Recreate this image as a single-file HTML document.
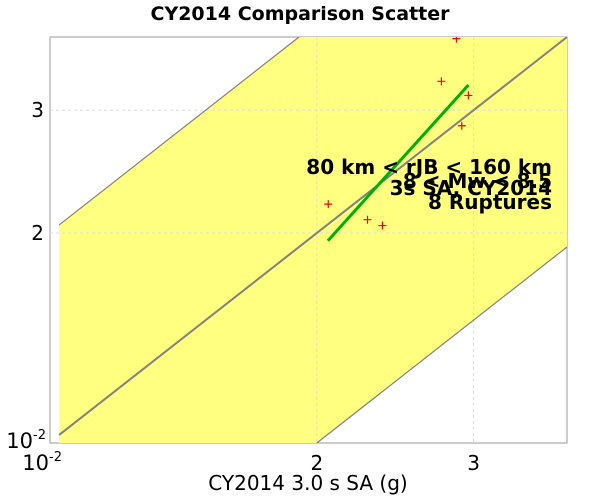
<!DOCTYPE html>
<html><head><meta charset="utf-8"><style>
html,body{margin:0;padding:0;background:#fff;width:600px;height:500px;overflow:hidden}
svg{display:block}
svg text{font-family:"DejaVu Sans","Liberation Sans",sans-serif}
</style></head><body>
<svg id="chart" width="600" height="500">
<text x="300" y="20" text-anchor="middle" font-size="19" font-weight="bold">CY2014 Comparison Scatter</text>
<rect x="50" y="37" width="517" height="406" fill="#fff" stroke="#999"/>
<g id="plot"></g>
<text x="308" y="490" text-anchor="middle" font-size="20">CY2014 3.0 s SA (g)</text>
</svg>
<script>
const xTickVals=[2,3];
const xTickLabels=["2","3"];
const yTickVals=[2,3];
const yTickLabels=["2","3"];
const ptX=[2.87,2.76,2.96,2.91,2.06,2.28,2.37];
const ptY=[3.80,3.30,3.15,2.85,2.20,2.09,2.05];
const fitX=[2.058,2.96];
const fitY=[1.95,3.26];
const bandRatio=[2,0.5];
const xMin=1.003,xMax=3.82,yMin=1.0,yMax=3.82,bandStart=1.027;
const L=50,R=567,T=37,B=443;
const sx=v=>L+(Math.log10(v)-Math.log10(xMin))/(Math.log10(xMax)-Math.log10(xMin))*(R-L);
const sy=v=>B-(Math.log10(v)-Math.log10(yMin))/(Math.log10(yMax)-Math.log10(yMin))*(B-T);
const NS="http://www.w3.org/2000/svg";
const svg=document.getElementById('chart');
const g=document.getElementById('plot');
function mk(t,a,p){const e=document.createElementNS(NS,t);for(const k in a)e.setAttribute(k,a[k]);(p||g).appendChild(e);return e;}
const hi=bandRatio[0],lo=bandRatio[1],x0=bandStart;
const upEnd=yMax/hi, loStart=yMin/lo;
const pts=[[x0,x0*hi],[upEnd,yMax],[xMax,yMax],[xMax,xMax*lo],[loStart,yMin],[x0,yMin]];
const band=mk('polygon',{points:pts.map(p=>sx(p[0])+','+sy(p[1])).join(' '),fill:'#ffff80'});


xTickVals.forEach((v,i)=>{const l=mk('line',{x1:sx(v),x2:sx(v),y1:T,y2:B,stroke:'#ddd','stroke-dasharray':'3,3'});


const t=mk('text',{x:sx(v),y:470,'text-anchor':'middle','font-size':'20'},svg);t.textContent=xTickLabels[i];

});
yTickVals.forEach((v,i)=>{const l=mk('line',{x1:L,x2:R,y1:sy(v),y2:sy(v),stroke:'#ddd','stroke-dasharray':'3,3'});


const t=mk('text',{x:44,y:sy(v)+7,'text-anchor':'end','font-size':'20'},svg);t.textContent=yTickLabels[i];

});
[[x0,x0*hi,upEnd,yMax,'band-upper-edge',1.2],[x0,x0,xMax,xMax,'one-to-one-line',2],[loStart,yMin,xMax,xMax*lo,'band-lower-edge',1.2]].forEach(a=>{
const l=mk('line',{x1:sx(a[0]),y1:sy(a[1]),x2:sx(a[2]),y2:sy(a[3]),stroke:'#808080','stroke-width':a[5]});

});
const fl=mk('line',{x1:sx(fitX[0]),y1:sy(fitY[0]),x2:sx(fitX[1]),y2:sy(fitY[1]),stroke:'#00b000','stroke-width':3});


ptX.forEach((xv,i)=>{const px=sx(xv),py=Math.max(T+1,sy(ptY[i]));
const p=mk('path',{d:`M${px-4},${py}H${px+4}M${px},${Math.max(T,py-4)}V${py+4}`,stroke:'#ff0000','stroke-width':1.2});

});
[[46,448],[62,470]].forEach(([x,y])=>{const t=mk('text',{x:x,y:y,'text-anchor':'end','font-size':'21'},svg);
t.innerHTML='10<tspan font-size="13" dy="-9">-2</tspan>';

});
[["80 km < rJB < 160 km",174],["8 < Mw < 8.5",188],["3s SA, CY2014",195],["8 Ruptures",209]].forEach(([s,y])=>{
const t=mk('text',{x:552,y:y,'text-anchor':'end','font-size':'20','font-weight':'bold'},svg);t.textContent=s;

});
</script>
</body></html>
